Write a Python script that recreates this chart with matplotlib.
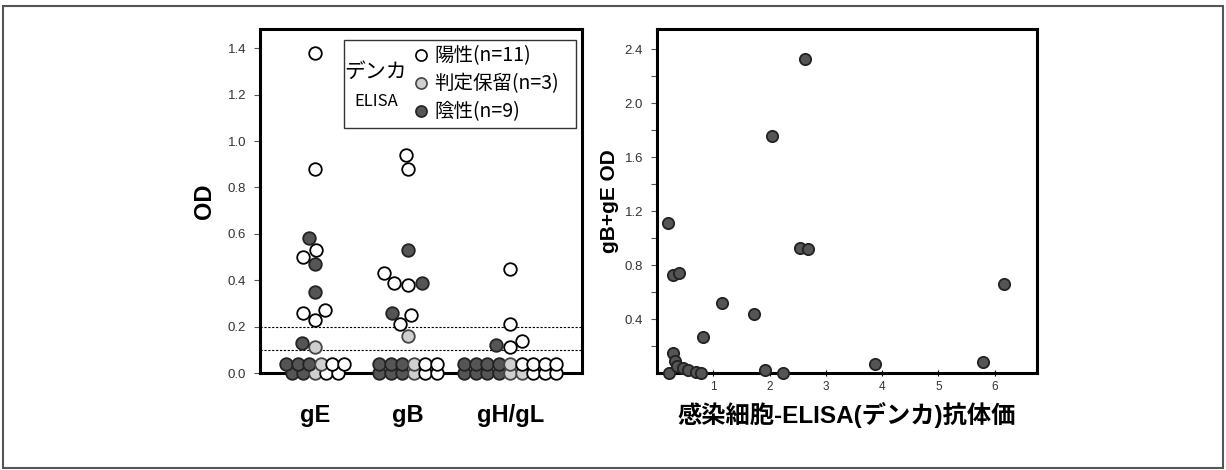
import numpy as np
import matplotlib.pyplot as plt
from matplotlib.patches import Rectangle
from matplotlib.lines import Line2D

plt.rcParams['font.family'] = ['Liberation Sans', 'Noto Sans CJK JP', 'DejaVu Sans']

# ---- left panel data: OD per antigen, split by Denka ELISA result ----
groups = ['gE', 'gB', 'gH/gL']
pos_vals = [
    [1.38, 0.88, 0.53, 0.50, 0.27, 0.26, 0.23, 0.04, 0.04, 0.0, 0.0],
    [0.94, 0.88, 0.43, 0.39, 0.38, 0.25, 0.21, 0.04, 0.04, 0.0, 0.0],
    [0.45, 0.21, 0.14, 0.11, 0.04, 0.04, 0.04, 0.04, 0.0, 0.0, 0.0],
]
hold_vals = [
    [0.11, 0.04, 0.0],
    [0.16, 0.04, 0.0],
    [0.04, 0.0, 0.0],
]
neg_vals = [
    [0.58, 0.47, 0.35, 0.13, 0.04, 0.04, 0.04, 0.0, 0.0],
    [0.53, 0.39, 0.26, 0.04, 0.04, 0.04, 0.0, 0.0, 0.0],
    [0.12, 0.04, 0.04, 0.04, 0.04, 0.0, 0.0, 0.0, 0.0],
]
legend_labels = ['陽性(n=11)', '判定保留(n=3)', '陰性(n=9)']
cutoffs = [0.1, 0.2]

# ---- right panel data: infected-cell ELISA titer vs gB+gE OD ----
titer = [2.63, 2.04, 0.20, 2.54, 2.68, 0.28, 0.39, 1.15, 1.73, 0.82, 0.28, 3.87,
         5.79, 6.16, 1.92, 2.24, 0.21, 0.32, 0.36, 0.47, 0.55, 0.69, 0.79]
od_sum = [2.33, 1.76, 1.11, 0.93, 0.92, 0.73, 0.74, 0.52, 0.44, 0.27, 0.15, 0.07,
          0.08, 0.66, 0.02, 0.00, 0.00, 0.09, 0.05, 0.04, 0.02, 0.01, 0.00]

styles = [('white', 'black'), ('#cfcfcf', '#444444'), ('#555555', '#222222')]
jp_font = ['Noto Sans CJK JP', 'DejaVu Sans']

fig = plt.figure(figsize=(12.26, 4.70), dpi=100)
fig.patches.append(Rectangle((3 / 1226, 2 / 470), 1220 / 1226, 462 / 470,
                             transform=fig.transFigure, fill=False,
                             edgecolor='#555555', lw=1.5))

ax1 = fig.add_axes([260 / 1226, 97 / 470, 322 / 1226, 344 / 470])
ax2 = fig.add_axes([657 / 1226, 97 / 470, 380 / 1226, 344 / 470])

centers = [0.0, 1.0, 2.1]
ax1.set_xlim(-0.591, 2.871)
ax1.set_ylim(0, 1.483)

# pixels per data unit, used by the swarm layout
px_x = 322 / (2.871 + 0.591)
px_y = 344 / 1.483
row_gap = 11.5   # px between dots in the baseline rows
hit = 14.0       # px collision distance for the swarm


def swarm(ys):
    placed = []
    offs = []
    for y in ys:
        py = y * px_y
        cands = [0.0]
        for (ox, oy) in placed:
            dy = py - oy
            if abs(dy) < hit:
                dx = np.sqrt(hit ** 2 - dy ** 2)
                cands += [ox - dx, ox + dx]
        cands.sort(key=lambda c: (abs(c), c))
        for c in cands:
            if all((c - ox) ** 2 + (py - oy) ** 2 >= hit ** 2 - 1e-6 for ox, oy in placed):
                placed.append((c, py))
                offs.append(c)
                break
    return offs


for gi, cx in enumerate(centers):
    cats = [pos_vals[gi], hold_vals[gi], neg_vals[gi]]
    # baseline rows: negative, hold, positive from left to right
    for level in sorted({v for c in cats for v in c if v < 0.05}):
        row = []
        for ci in [2, 1, 0]:
            row += [ci] * sum(1 for v in cats[ci] if v == level)
        n = len(row)
        for k, ci in enumerate(row):
            x = cx + (k - (n - 1) / 2) * row_gap / px_x
            ax1.scatter(x, level, s=82, facecolor=styles[ci][0], edgecolor=styles[ci][1],
                        lw=1.3, zorder=3 + k * 0.01, clip_on=False)
    # upper points: simple beeswarm, lowest value first
    upper = sorted([(v, ci) for ci in range(3) for v in cats[ci] if v >= 0.05])
    offs = swarm([v for v, _ in upper])
    for (v, ci), o in zip(upper, offs):
        ax1.scatter(cx + o / px_x, v, s=82, facecolor=styles[ci][0], edgecolor=styles[ci][1],
                    lw=1.3, zorder=4, clip_on=False)

for c in cutoffs:
    ax1.axhline(c, color='black', lw=0.8, ls=(0, (2, 1.5)), zorder=1)

ax1.set_xticks(centers)
ax1.set_xticklabels(groups, fontsize=17, fontweight='bold')
ax1.tick_params(axis='x', length=0, pad=22)
ax1.set_yticks(np.arange(0, 1.41, 0.2))
ax1.set_yticklabels([f'{v:.1f}' for v in np.arange(0, 1.41, 0.2)])
ax1.tick_params(axis='y', labelsize=9.5, labelcolor='#333333', length=4, width=0.8,
                color='#555555', pad=6)
ax1.set_ylabel('OD', fontsize=17, fontweight='bold', labelpad=8)
for sp in ax1.spines.values():
    sp.set_linewidth(2.2)

# legend frame + side text
ax1.add_patch(Rectangle((0.26, 0.712), 0.72, 0.256, transform=ax1.transAxes,
                        fill=False, edgecolor='#333333', lw=1.0, zorder=5))
ax1.text(0.36, 0.875, 'デンカ', transform=ax1.transAxes, fontsize=15,
         family=jp_font, ha='center', va='center', zorder=6)
ax1.text(0.36, 0.79, 'ELISA', transform=ax1.transAxes, fontsize=12,
         family=jp_font, ha='center', va='center', zorder=6)
handles = [Line2D([], [], ls='none', marker='o', markersize=8,
                  markerfacecolor=styles[i][0], markeredgecolor=styles[i][1],
                  markeredgewidth=1.2) for i in range(3)]
leg = ax1.legend(handles, legend_labels, loc='center left', bbox_to_anchor=(0.445, 0.84),
                 frameon=False, handlelength=0.8, handletextpad=0.3,
                 labelspacing=0.36, borderpad=0.0,
                 prop={'family': jp_font, 'size': 14})
leg.set_zorder(6)

# ---- right panel ----
ax2.scatter(titer, od_sum, s=66, facecolor='#555555', edgecolor='#222222', lw=1.3,
            zorder=3, clip_on=False)
ax2.set_xlim(0, 6.75)
ax2.set_ylim(0, 2.55)
ax2.set_xticks(range(1, 7))
ax2.tick_params(axis='x', labelsize=8.5, labelcolor='#333333', length=4, width=0.8,
                direction='inout', pad=4)
ax2.set_yticks(np.arange(0.4, 2.41, 0.4))
ax2.set_yticklabels([f'{v:.1f}' for v in np.arange(0.4, 2.41, 0.4)])
ax2.set_yticks(np.arange(0.2, 2.41, 0.4), minor=True)
ax2.tick_params(axis='y', which='both', labelsize=9.5, labelcolor='#333333', length=4,
                width=0.8, color='#555555', pad=6)
ax2.set_ylabel('gB+gE OD', fontsize=15, fontweight='bold', labelpad=4)
ax2.set_xlabel('感染細胞-ELISA(デンカ)抗体価', fontsize=17.5, fontweight='bold', labelpad=6)
for sp in ax2.spines.values():
    sp.set_linewidth(2.2)

plt.savefig('out.png', dpi=100)
